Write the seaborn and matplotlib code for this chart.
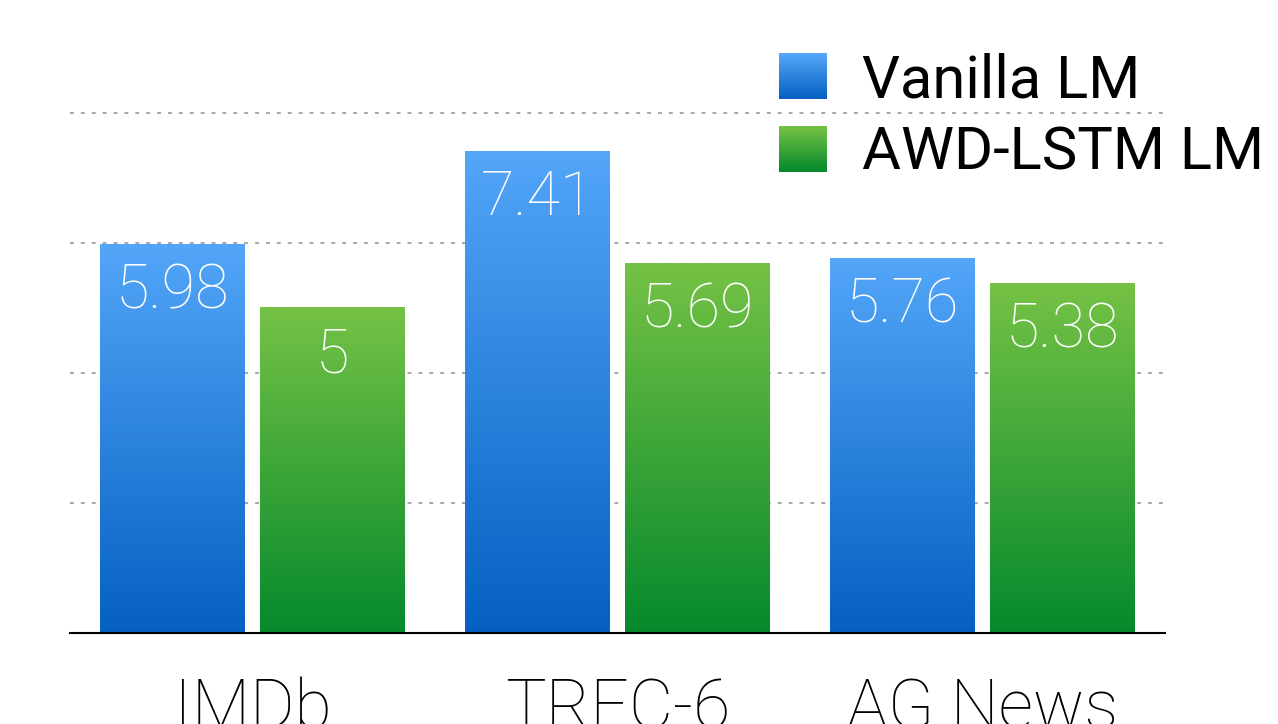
import numpy as np
import pandas as pd
import matplotlib
matplotlib.use('Agg')
import matplotlib.pyplot as plt
import seaborn as sns
from matplotlib.colors import LinearSegmentedColormap, to_rgb
from matplotlib.legend_handler import HandlerBase
from matplotlib.patches import Rectangle, Patch

# data
categories = ['IMDb', 'TREC-6', 'AG News']
series_names = ['Vanilla LM', 'AWD-LSTM LM']
vanilla_lm = [5.98, 7.41, 5.76]
awd_lstm_lm = [5.0, 5.69, 5.38]

# gradient colours (top, bottom)
grad_colors = {'Vanilla LM': ('#53a6f8', '#0560c2'),
               'AWD-LSTM LM': ('#75c245', '#05892c')}

df = pd.DataFrame({
    'dataset': categories * 2,
    'model': [series_names[0]] * 3 + [series_names[1]] * 3,
    'score': vanilla_lm + awd_lstm_lm,
})

sns.set_style('white')
plt.rcParams['font.family'] = ['Roboto', 'DejaVu Sans']
plt.rcParams['text.color'] = 'black'
plt.rcParams['xtick.color'] = 'black'

fig = plt.figure(figsize=(12.78, 7.24), dpi=100)
ax = fig.add_axes([70 / 1278, 91 / 724, 1095 / 1278, 520 / 724])

palette = {k: v[0] for k, v in grad_colors.items()}
sns.barplot(data=df, x='dataset', y='score', hue='model', hue_order=series_names,
            palette=palette, width=0.876, gap=0.094, legend=False, ax=ax, zorder=2)

# swap flat bars for vertical gradients + white value labels inside
for cont, name in zip(ax.containers, series_names):
    top, bottom = grad_colors[name]
    cmap = LinearSegmentedColormap.from_list(name, [bottom, top])
    for bar in cont:
        x, w, h = bar.get_x(), bar.get_width(), bar.get_height()
        grad = np.linspace(0, 1, 256).reshape(-1, 1)
        ax.imshow(grad, extent=[x, x + w, 0, h], origin='lower', aspect='auto',
                  cmap=cmap, zorder=2)
        bar.set_visible(False)
        ax.annotate(f'{h:g}', (x + w / 2, h), xytext=(0, -13), textcoords='offset points',
                    ha='center', va='top', color='white', fontsize=44, fontweight='light')

ax.set_xlim(-0.5, 2.5)
ax.set_ylim(0, 8)
ax.set_yticks([2, 4, 6, 8])
ax.yaxis.grid(True, linestyle=(0, (2, 3.6)), color='#a6a6a6', lw=1.4)
for gl in ax.get_ygridlines():
    gl.set_clip_on(False)
ax.set_axisbelow(True)
ax.tick_params(axis='y', left=False, labelleft=False)
ax.tick_params(axis='x', length=0, pad=32, labelsize=49)
for lbl in ax.get_xticklabels():
    lbl.set_fontweight('light')
for s in ['top', 'left', 'right']:
    ax.spines[s].set_visible(False)
ax.spines['bottom'].set_color('black')
ax.spines['bottom'].set_linewidth(1.5)
ax.set_xlabel('')
ax.set_ylabel('')


class GradientHandler(HandlerBase):
    def create_artists(self, legend, orig_handle, xdescent, ydescent,
                       width, height, fontsize, trans):
        top, bottom = [np.array(to_rgb(c)) for c in orig_handle.grad]
        n = 30
        arts = []
        for i in range(n):
            t = i / (n - 1)
            c = bottom * (1 - t) + top * t
            r = Rectangle((-xdescent, -ydescent + height * i / n), width, height / n * 1.05,
                          facecolor=c, edgecolor='none', transform=trans)
            arts.append(r)
        return arts


handles = []
for name in series_names:
    p = Patch(label=name)
    p.grad = grad_colors[name]
    handles.append(p)

fig.legend(handles=handles, loc='upper left', bbox_to_anchor=(779 / 1278, 1 - 52 / 724),
           frameon=False, borderpad=0, borderaxespad=0, handlelength=0.81,
           handleheight=0.8, handletextpad=0.58, labelspacing=0.26, fontsize=43,
           handler_map={Patch: GradientHandler()})

fig.savefig('out.png', dpi=100)
